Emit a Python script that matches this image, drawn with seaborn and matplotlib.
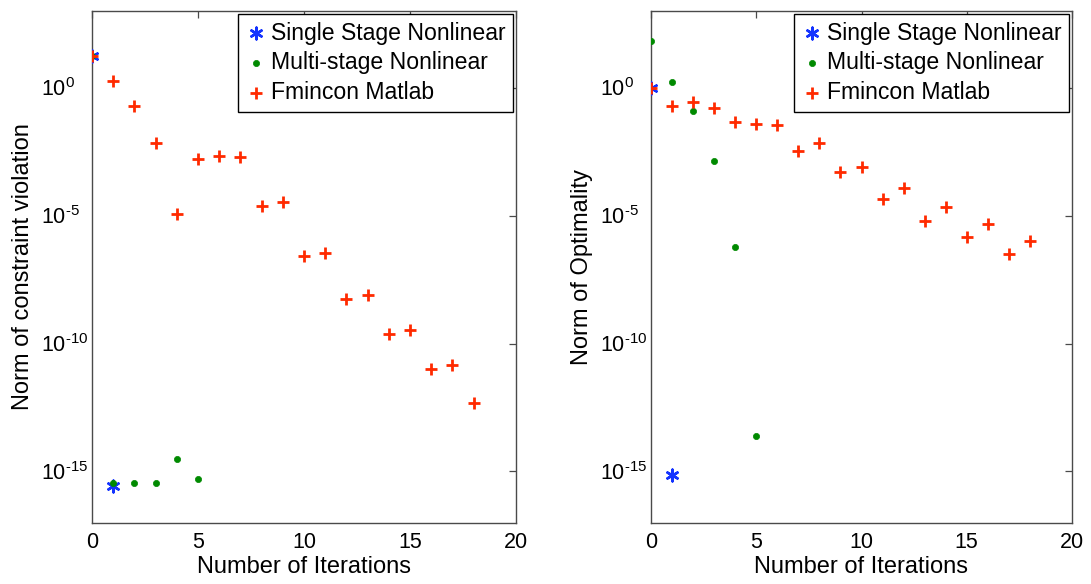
import numpy as np
import pandas as pd
import matplotlib
matplotlib.use("Agg")
import matplotlib.pyplot as plt
import seaborn as sns
from matplotlib.ticker import NullLocator, FixedLocator, FuncFormatter

# ---------------- data ----------------
iters_fmincon = list(range(19))
left_single_x = [0, 1]
left_single_y = [16.6, 2.7e-16]
left_multi_x = [0, 1, 2, 3, 4, 5]
left_multi_y = [16.6, 3.6e-16, 3.6e-16, 3.6e-16, 2.95e-15, 5.2e-16]
left_fmincon_y = [16.6, 1.74, 0.19, 6.5e-3, 1.15e-5, 1.66e-3, 2.2e-3, 2.0e-3,
                  2.4e-5, 3.5e-5, 2.6e-7, 3.5e-7, 5.4e-9, 8.1e-9, 2.3e-10,
                  3.4e-10, 1.05e-11, 1.5e-11, 4.9e-13]

right_single_x = [0, 1]
right_single_y = [1.0, 7.2e-16]
right_multi_x = [0, 1, 2, 3, 4, 5]
right_multi_y = [68.0, 1.6, 0.126, 1.35e-3, 5.8e-7, 2.5e-14]
right_fmincon_y = [1.0, 0.186, 0.27, 0.155, 0.046, 0.037, 0.035, 3.2e-3, 6.9e-3,
                   4.9e-4, 7.6e-4, 4.6e-5, 1.15e-4, 6.3e-6, 2.1e-5, 1.5e-6,
                   4.5e-6, 3.0e-7, 9.8e-7]

labels = ["Single Stage Nonlinear", "Multi-stage Nonlinear", "Fmincon Matlab"]
xticks = [0, 5, 10, 15, 20]
yticks = [1e0, 1e-5, 1e-10, 1e-15]

# ---------------- style ----------------
sns.set_theme(style="white")
plt.rcParams["font.family"] = ["Liberation Sans", "DejaVu Sans"]
plt.rcParams["mathtext.fontset"] = "custom"
plt.rcParams["mathtext.rm"] = "Liberation Sans"
plt.rcParams["mathtext.it"] = "Liberation Sans:italic"
plt.rcParams["mathtext.bf"] = "Liberation Sans:bold"
plt.rcParams["text.color"] = "black"
plt.rcParams["axes.labelcolor"] = "black"
plt.rcParams["xtick.color"] = "black"
plt.rcParams["ytick.color"] = "black"

BLUE = "#1433ff"
GREEN = "#008a00"
RED = "#ff2a00"
SPINE = "#4a4a4a"


def fmt_pow(v, pos):
    e = int(round(np.log10(v)))
    return r"$10^{\text{%d}}$" % e


fig = plt.figure(figsize=(10.91, 5.84), dpi=100)
ax1 = fig.add_axes([92 / 1091, 61.3 / 584, 424 / 1091, 512 / 584])
ax2 = fig.add_axes([651 / 1091, 61.3 / 584, 421 / 1091, 512 / 584])


def draw(ax, sx, sy, mx, my, fy, ylabel):
    sns.scatterplot(x=sx, y=sy, ax=ax, marker=(6, 2, 0), s=70, color=BLUE,
                    linewidth=1.8, label=labels[0], zorder=3)
    sns.scatterplot(x=mx, y=my, ax=ax, marker="o", s=20, color=GREEN,
                    edgecolor=GREEN, linewidth=0.5, label=labels[1], zorder=4)
    sns.scatterplot(x=iters_fmincon, y=fy, ax=ax, marker="+", s=80, color=RED,
                    linewidth=2.0, label=labels[2], zorder=5)
    ax.set_yscale("log")
    ax.set_xlim(0, 20)
    ax.set_ylim(1e-17, 1e3)
    ax.xaxis.set_major_locator(FixedLocator(xticks))
    ax.yaxis.set_major_locator(FixedLocator(yticks))
    ax.yaxis.set_minor_locator(NullLocator())
    ax.yaxis.set_major_formatter(FuncFormatter(fmt_pow))
    ax.tick_params(direction="in", top=True, right=True, length=5, width=0.9,
                   color=SPINE, labelsize=15.5, labelcolor="black")
    ax.tick_params(axis="x", pad=7)
    ax.tick_params(axis="y", pad=36.5)
    for sp in ax.spines.values():
        sp.set_color(SPINE)
        sp.set_linewidth(1.0)
    ax.set_xlabel("Number of Iterations", fontsize=17, labelpad=2, color="black")
    ax.set_ylabel(ylabel, fontsize=17, labelpad=5, color="black")
    leg = ax.legend(loc="upper right", fontsize=16.6, frameon=True, fancybox=False,
                    edgecolor="black", framealpha=1, borderpad=0.32,
                    labelspacing=0.3, handlelength=0.9, handletextpad=0.18,
                    borderaxespad=0.15)
    leg.get_frame().set_linewidth(1.0)
    for t in leg.get_texts():
        t.set_color("black")


draw(ax1, left_single_x, left_single_y, left_multi_x, left_multi_y,
     left_fmincon_y, "Norm of constraint violation")
draw(ax2, right_single_x, right_single_y, right_multi_x, right_multi_y,
     right_fmincon_y, "Norm of Optimality")

for ax in (ax1, ax2):
    for lab in ax.yaxis.get_majorticklabels():
        lab.set_horizontalalignment("left")

fig.savefig("out.png", dpi=100)
